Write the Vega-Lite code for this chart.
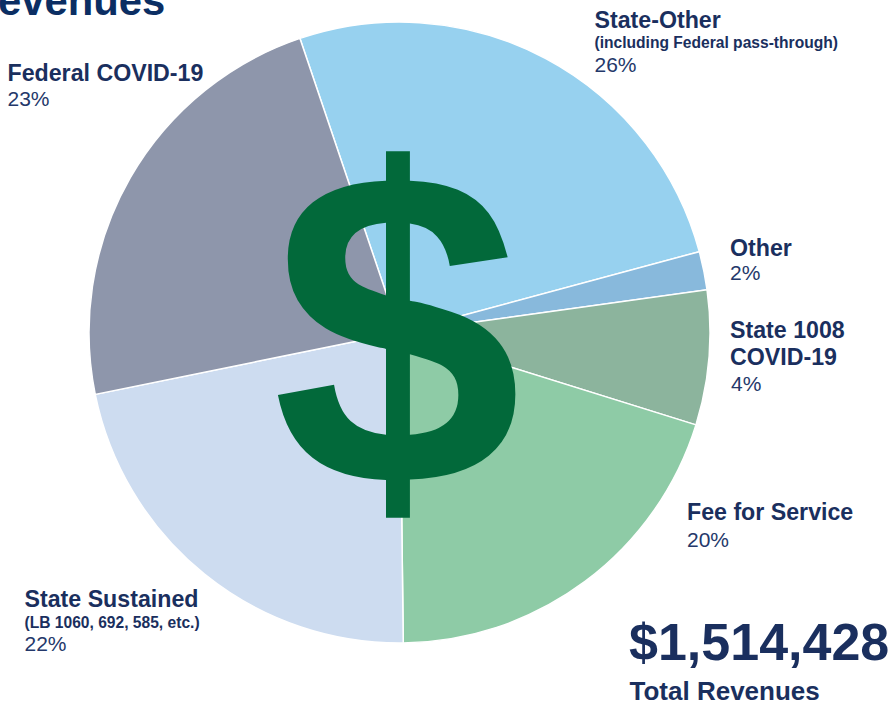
{"$schema":"https://vega.github.io/schema/vega-lite/v6.json","width":891,"height":703,"autosize":{"type":"none"},"padding":0,"background":"white","config":{"view":{"stroke":null},"text":{"font":"Liberation Sans","align":"left","baseline":"alphabetic"}},"data":{"values":[{"source":"State-Other","share":26,"order":1},{"source":"Other","share":2,"order":2},{"source":"State 1008 COVID-19","share":7,"order":3},{"source":"Fee for Service","share":20,"order":4},{"source":"State Sustained","share":22,"order":5},{"source":"Federal COVID-19","share":23,"order":6}]},"layer":[{"mark":{"type":"arc","outerRadius":310.5,"stroke":"white","strokeWidth":1.5},"encoding":{"x":{"value":399.5},"y":{"value":332.5},"theta":{"field":"share","type":"quantitative","stack":true,"scale":{"range":[5.957,12.24]}},"order":{"field":"order","type":"quantitative"},"color":{"field":"source","type":"nominal","legend":null,"scale":{"domain":["State-Other","Other","State 1008 COVID-19","Fee for Service","State Sustained","Federal COVID-19"],"range":["#97d1ef","#88b9dc","#8cb49d","#8ecba6","#cddcf0","#8e96ab"]}}}},{"data":{"values":[{"t":"$"}]},"mark":{"type":"text","x":272,"y":484.5,"fontSize":449,"fontWeight":"bold","color":"#02693a"},"encoding":{"text":{"field":"t"}}},{"data":{"values":[{"t":"evenues"}]},"mark":{"type":"text","x":-2,"y":15,"fontSize":41.8,"fontWeight":"bold","color":"#0b2e63"},"encoding":{"text":{"field":"t"}}},{"data":{"values":[{"t":"State-Other"}]},"mark":{"type":"text","x":594.5,"y":28,"fontSize":23.2,"fontWeight":"bold","color":"#1a2f5e"},"encoding":{"text":{"field":"t"}}},{"data":{"values":[{"t":"(including Federal pass-through)"}]},"mark":{"type":"text","x":594.5,"y":48,"fontSize":15.6,"fontWeight":"bold","color":"#1a2f5e"},"encoding":{"text":{"field":"t"}}},{"data":{"values":[{"t":"26%"}]},"mark":{"type":"text","x":594.5,"y":72,"fontSize":21,"color":"#24386a"},"encoding":{"text":{"field":"t"}}},{"data":{"values":[{"t":"Federal COVID-19"}]},"mark":{"type":"text","x":7.5,"y":81,"fontSize":23.2,"fontWeight":"bold","color":"#1a2f5e"},"encoding":{"text":{"field":"t"}}},{"data":{"values":[{"t":"23%"}]},"mark":{"type":"text","x":7.5,"y":106,"fontSize":21,"color":"#24386a"},"encoding":{"text":{"field":"t"}}},{"data":{"values":[{"t":"Other"}]},"mark":{"type":"text","x":730,"y":255.5,"fontSize":23.2,"fontWeight":"bold","color":"#1a2f5e"},"encoding":{"text":{"field":"t"}}},{"data":{"values":[{"t":"2%"}]},"mark":{"type":"text","x":730,"y":280,"fontSize":21,"color":"#24386a"},"encoding":{"text":{"field":"t"}}},{"data":{"values":[{"t":"State 1008"}]},"mark":{"type":"text","x":730,"y":337.5,"fontSize":23.2,"fontWeight":"bold","color":"#1a2f5e"},"encoding":{"text":{"field":"t"}}},{"data":{"values":[{"t":"COVID-19"}]},"mark":{"type":"text","x":730,"y":364.5,"fontSize":23.2,"fontWeight":"bold","color":"#1a2f5e"},"encoding":{"text":{"field":"t"}}},{"data":{"values":[{"t":"4%"}]},"mark":{"type":"text","x":731,"y":391,"fontSize":21,"color":"#24386a"},"encoding":{"text":{"field":"t"}}},{"data":{"values":[{"t":"Fee for Service"}]},"mark":{"type":"text","x":687,"y":520,"fontSize":23.2,"fontWeight":"bold","color":"#1a2f5e"},"encoding":{"text":{"field":"t"}}},{"data":{"values":[{"t":"20%"}]},"mark":{"type":"text","x":687,"y":547,"fontSize":21,"color":"#24386a"},"encoding":{"text":{"field":"t"}}},{"data":{"values":[{"t":"State Sustained"}]},"mark":{"type":"text","x":24.5,"y":607,"fontSize":23.2,"fontWeight":"bold","color":"#1a2f5e"},"encoding":{"text":{"field":"t"}}},{"data":{"values":[{"t":"(LB 1060, 692, 585, etc.)"}]},"mark":{"type":"text","x":24.5,"y":628,"fontSize":15.6,"fontWeight":"bold","color":"#1a2f5e"},"encoding":{"text":{"field":"t"}}},{"data":{"values":[{"t":"22%"}]},"mark":{"type":"text","x":24.5,"y":651,"fontSize":21,"color":"#24386a"},"encoding":{"text":{"field":"t"}}},{"data":{"values":[{"t":"$1,514,428"}]},"mark":{"type":"text","x":629,"y":660,"fontSize":52,"fontWeight":"bold","color":"#1a2f5e"},"encoding":{"text":{"field":"t"}}},{"data":{"values":[{"t":"Total Revenues"}]},"mark":{"type":"text","x":629.5,"y":700,"fontSize":26,"fontWeight":"bold","color":"#1a2f5e"},"encoding":{"text":{"field":"t"}}}]}
